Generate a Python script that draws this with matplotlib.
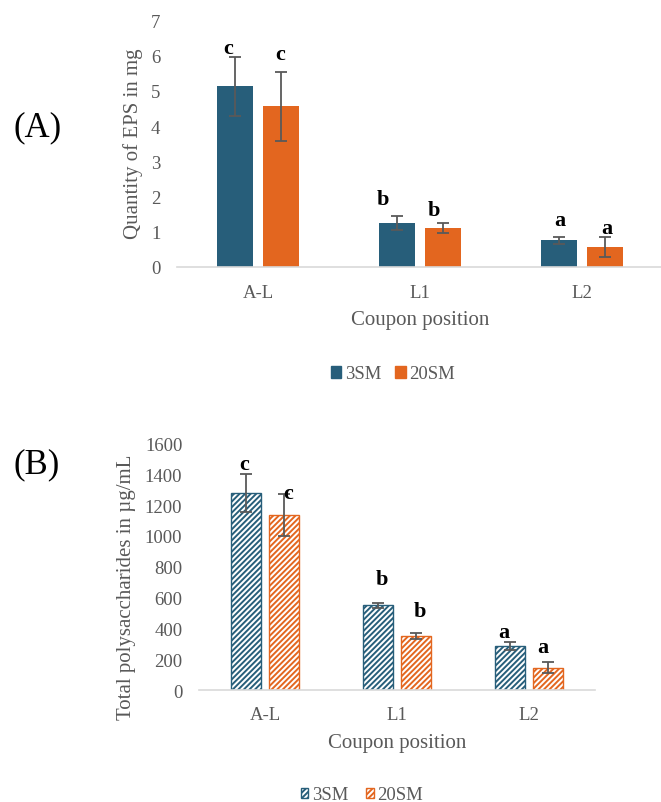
import matplotlib
matplotlib.use('Agg')
import matplotlib.pyplot as plt
import matplotlib.patches as mpatches
import numpy as np

plt.rcParams['font.family'] = ['Liberation Serif', 'DejaVu Serif']
plt.rcParams['hatch.linewidth'] = 1.4

# data
positions = ['A-L', 'L1', 'L2']
series = ['3SM', '20SM']

eps_3sm = [5.13, 1.25, 0.75]
eps_20sm = [4.57, 1.10, 0.57]
eps_3sm_err = [0.84, 0.20, 0.10]
eps_20sm_err = [0.98, 0.14, 0.28]
eps_letters = [['c', 'c'], ['b', 'b'], ['a', 'a']]
eps_letter_y = [[6.22, 6.05], [1.93, 1.61], [1.33, 1.10]]

poly_3sm = [1278, 550, 289]
poly_20sm = [1135, 352, 146]
poly_3sm_err = [123, 18, 26]
poly_20sm_err = [134, 17, 37]
poly_letters = [['c', 'c'], ['b', 'b'], ['a', 'a']]
poly_letter_y = [[1466, 1276], [721, 516], [376, 282]]

BLUE = '#275E7A'
ORANGE = '#E3661F'
GRAY = '#595959'
AXIS = '#D9D9D9'
HATCH = '//////'

W, H = 661, 803
fig = plt.figure(figsize=(W / 100, H / 100), dpi=100)


def px_axes(left, right, y0, ytop):
    # pixel coords (from top-left) -> figure fraction
    return fig.add_axes([left / W, (H - y0) / H, (right - left) / W, (y0 - ytop) / H])


def style_axes(ax, ymax, step, xpad):
    ax.set_xlim(-0.5, 2.5)
    ax.set_ylim(0, ymax)
    ax.set_yticks(np.arange(0, ymax + 1, step))
    for s in ['top', 'right', 'left']:
        ax.spines[s].set_visible(False)
    ax.spines['bottom'].set_color(AXIS)
    ax.spines['bottom'].set_linewidth(1.2)
    ax.tick_params(axis='both', length=0, labelsize=13.5, labelcolor=GRAY)
    ax.tick_params(axis='y', pad=12)
    ax.tick_params(axis='x', pad=xpad)
    ax.set_xticks(range(len(positions)))
    ax.set_xticklabels(positions)
    ax.patch.set_alpha(0)


x = np.arange(len(positions))
err_kw = dict(ecolor=GRAY, elinewidth=1.3, capsize=4, capthick=1.3)

# ---------------- (A) ----------------
axA = px_axes(177, 663, 267.7, 21.7)
offA, wA = 0.141, 0.221
axA.bar(x - offA, eps_3sm, wA, yerr=eps_3sm_err, color=BLUE, error_kw=err_kw, zorder=2)
axA.bar(x + offA, eps_20sm, wA, yerr=eps_20sm_err, color=ORANGE, error_kw=err_kw, zorder=2)
style_axes(axA, 7, 1, 12.5)
dxA = [[-7, -1], [-14, -9], [1, 2]]
for i in range(len(positions)):
    for j, sgn in enumerate([-1, 1]):
        axA.annotate(eps_letters[i][j], (x[i] + sgn * offA, eps_letter_y[i][j]),
                     xytext=(dxA[i][j] * 0.72, 0), textcoords='offset points',
                     ha='center', va='center', fontsize=16, fontweight='bold', color='black')

fig.text(133 / W, 1 - 144 / H, 'Quantity of EPS in mg', rotation=90, ha='center', va='center',
         fontsize=15, color=GRAY)
fig.text(420 / W, 1 - 320 / H, 'Coupon position', ha='center', va='center', fontsize=15, color=GRAY)
fig.text(38 / W, 1 - 127.5 / H, '(A)', ha='center', va='center', fontsize=25, color='black')

hA = [mpatches.Patch(facecolor=BLUE, edgecolor=BLUE), mpatches.Patch(facecolor=ORANGE, edgecolor=ORANGE)]
legA = fig.legend(hA, series, loc='center', bbox_to_anchor=(393 / W, 1 - 375 / H), ncol=2, frameon=False,
                  fontsize=13.5, handlelength=0.55, handleheight=0.55, handletextpad=0.2,
                  columnspacing=0.75, labelcolor=GRAY)

# ---------------- (B) ----------------
axB = px_axes(199, 595, 691.3, 444.3)
offB, wB = 0.142, 0.227
axB.bar(x - offB, poly_3sm, wB, yerr=poly_3sm_err, color='white', edgecolor=BLUE, hatch=HATCH,
        linewidth=1.0, error_kw=err_kw, zorder=2)
axB.bar(x + offB, poly_20sm, wB, yerr=poly_20sm_err, color='white', edgecolor=ORANGE, hatch=HATCH,
        linewidth=1.0, error_kw=err_kw, zorder=2)
style_axes(axB, 1600, 200, 11)
dxB = [[-2, 4], [4, 4.5], [-6, -5]]
for i in range(len(positions)):
    for j, sgn in enumerate([-1, 1]):
        axB.annotate(poly_letters[i][j], (x[i] + sgn * offB, poly_letter_y[i][j]),
                     xytext=(dxB[i][j] * 0.72, 0), textcoords='offset points',
                     ha='center', va='center', fontsize=16, fontweight='bold', color='black')

fig.text(126 / W, 1 - 587 / H, 'Total polysaccharides in µg/mL', rotation=90, ha='center', va='center',
         fontsize=15, color=GRAY)
fig.text(397 / W, 1 - 744 / H, 'Coupon position', ha='center', va='center', fontsize=15, color=GRAY)
fig.text(37 / W, 1 - 465 / H, '(B)', ha='center', va='center', fontsize=25, color='black')

hB = [mpatches.Patch(facecolor='white', edgecolor=BLUE, hatch=HATCH),
      mpatches.Patch(facecolor='white', edgecolor=ORANGE, hatch=HATCH)]
legB = fig.legend(hB, series, loc='center', bbox_to_anchor=(362 / W, 1 - 796 / H), ncol=2, frameon=False,
                  fontsize=13.5, handlelength=0.4, handleheight=0.45, handletextpad=0.2,
                  columnspacing=0.95, labelcolor=GRAY)

fig.savefig('out.png', dpi=100)
